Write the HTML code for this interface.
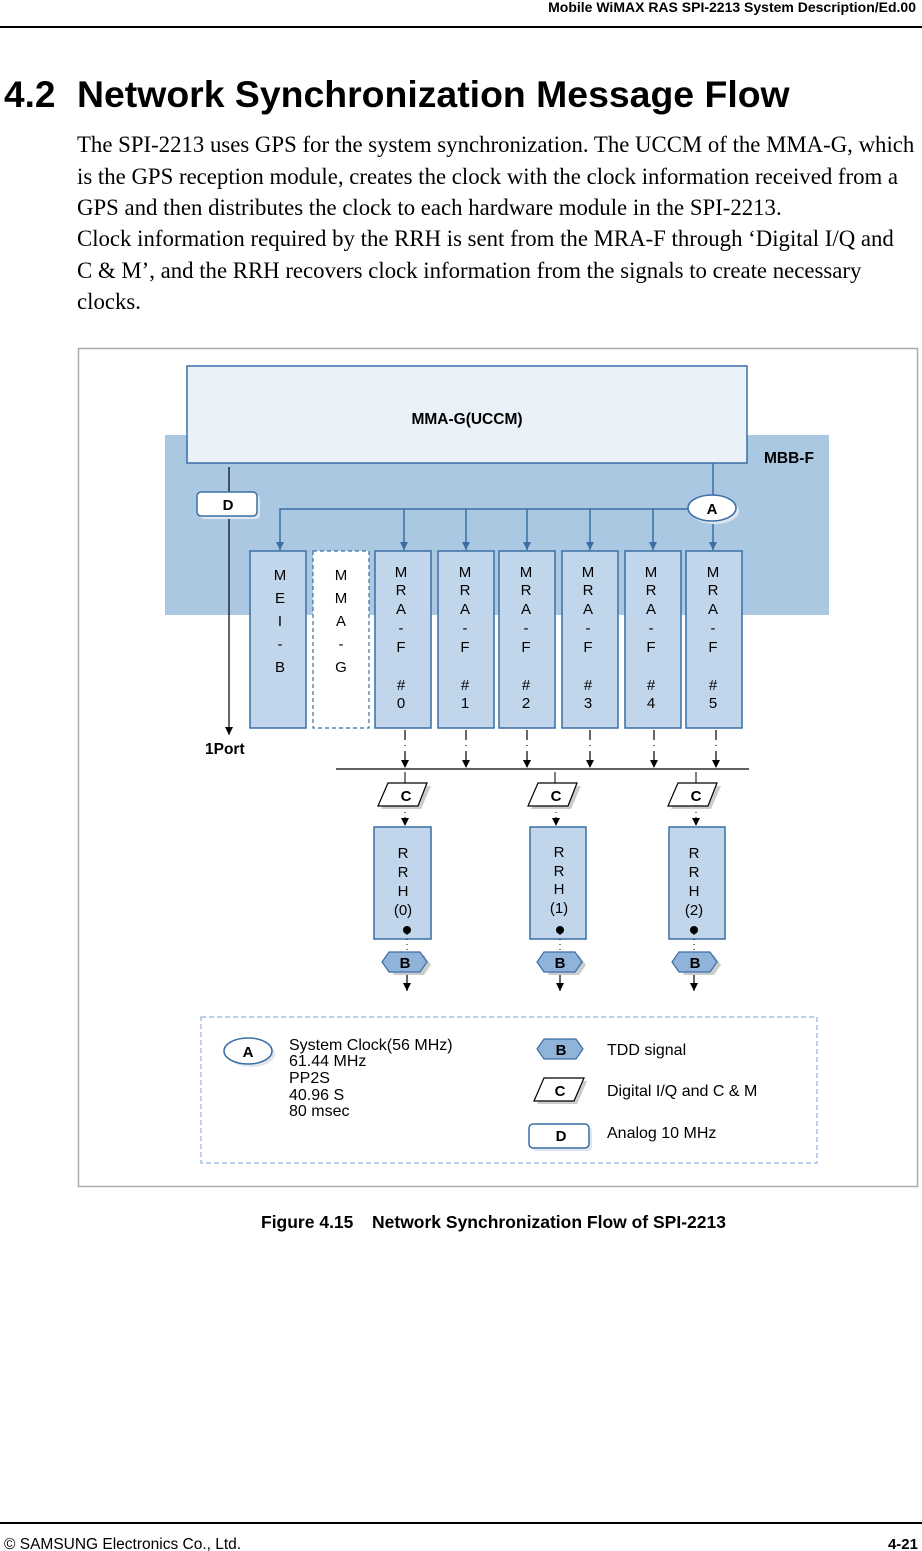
<!DOCTYPE html>
<html><head><meta charset="utf-8"><style>
body{margin:0;background:#fff;}
svg{display:block;font-family:"Liberation Sans",Arial,sans-serif;}
</style></head><body>
<svg width="922" height="1551" viewBox="0 0 922 1551" xmlns="http://www.w3.org/2000/svg">
<defs>
<marker id="ar" markerWidth="8" markerHeight="8" refX="8" refY="4" orient="auto" markerUnits="userSpaceOnUse"><path d="M0,0 L8,4 L0,8z" fill="#000"/></marker>
<marker id="ab" markerWidth="8" markerHeight="8" refX="8" refY="4" orient="auto" markerUnits="userSpaceOnUse"><path d="M0,0 L8,4 L0,8z" fill="#3a6ea5"/></marker>
<g id="m0"><text x="0" y="577">M</text><text x="0" y="595">R</text><text x="0" y="614">A</text><text x="0" y="633">-</text><text x="0" y="652">F</text><text x="0" y="690">#</text></g>
<g id="cc">
<polygon points="391,786 431,786 421,809 381,809" fill="#ccc"/>
<polygon points="388,783 427,783 418,806 378,806" fill="#fff" stroke="#000" stroke-width="1.2"/>
<text x="406" y="801" text-anchor="middle" font-size="15" font-weight="bold">C</text>
</g>
<g id="bb">
<polygon points="388,965 394,955 424,955 431,965 424,975 394,975" fill="#ccc"/>
<polygon points="382,962 389,952 420,952 427,962 420,972 389,972" fill="#8fb3d9" stroke="#3a6ea5" stroke-width="1.2"/>
<text x="405" y="968" text-anchor="middle" font-size="15" font-weight="bold">B</text>
</g>
</defs>
<text x="916" y="12" text-anchor="end" font-size="14" font-weight="bold">Mobile WiMAX RAS SPI-2213 System Description/Ed.00</text>
<line x1="0" y1="27" x2="922" y2="27" stroke="#000" stroke-width="2"/>
<text x="4" y="107" font-size="37" font-weight="bold">4.2</text>
<text x="77" y="107" font-size="37.4" font-weight="bold">Network Synchronization Message Flow</text>
<g font-family="Liberation Serif,serif" font-size="22.8">
<text x="77" y="152">The SPI-2213 uses GPS for the system synchronization. The UCCM of the MMA-G, which</text>
<text x="77" y="184">is the GPS reception module, creates the clock with the clock information received from a</text>
<text x="77" y="215">GPS and then distributes the clock to each hardware module in the SPI-2213.</text>
<text x="77" y="246">Clock information required by the RRH is sent from the MRA-F through ‘Digital I/Q and</text>
<text x="77" y="278">C &amp; M’, and the RRH recovers clock information from the signals to create necessary</text>
<text x="77" y="309">clocks.</text>
</g>
<rect x="78.5" y="348.5" width="839" height="838" fill="#fff" stroke="#aaa" stroke-width="1.5"/>
<rect x="165" y="435" width="664" height="180" fill="#abc8e3"/>
<rect x="187" y="366" width="560" height="97" fill="#eaf1f9" stroke="#3a6ea5" stroke-width="1.5"/>
<text x="467" y="424" text-anchor="middle" font-size="15.5" font-weight="bold">MMA-G(UCCM)</text>
<text x="764" y="463" font-size="15.5" font-weight="bold">MBB-F</text>
<line x1="229" y1="467" x2="229" y2="735" stroke="#000" stroke-width="1.2" marker-end="url(#ar)"/>
<rect x="200" y="495" width="60" height="24" rx="4" fill="#dfe6ee"/>
<rect x="197" y="492" width="60" height="24" rx="4" fill="#fff" stroke="#3a6ea5" stroke-width="1.5"/>
<text x="228" y="510" text-anchor="middle" font-size="15" font-weight="bold">D</text>
<text x="205" y="754" font-size="15.5" font-weight="bold">1Port</text>
<line x1="713" y1="463" x2="713" y2="550" stroke="#3a6ea5" stroke-width="1.5" marker-end="url(#ab)"/>
<polyline points="700,509 280,509 280,550" fill="none" stroke="#3a6ea5" stroke-width="1.5" marker-end="url(#ab)"/>
<g stroke="#3a6ea5" stroke-width="1.5" marker-end="url(#ab)">
<line x1="404" y1="509" x2="404" y2="550"/><line x1="466" y1="509" x2="466" y2="550"/>
<line x1="527" y1="509" x2="527" y2="550"/><line x1="590" y1="509" x2="590" y2="550"/>
<line x1="653" y1="509" x2="653" y2="550"/>
</g>
<ellipse cx="715" cy="511" rx="24" ry="13" fill="#dfe6ee"/>
<ellipse cx="712" cy="508" rx="24" ry="13" fill="#fff" stroke="#3a6ea5" stroke-width="1.5"/>
<text x="712" y="514" text-anchor="middle" font-size="15" font-weight="bold">A</text>
<g fill="#c2d6eb" stroke="#3a6ea5" stroke-width="1.5">
<rect x="250" y="551" width="56" height="177"/>
<rect x="375" y="551" width="56" height="177"/><rect x="438" y="551" width="56" height="177"/>
<rect x="499" y="551" width="56" height="177"/><rect x="562" y="551" width="56" height="177"/>
<rect x="625" y="551" width="56" height="177"/><rect x="686" y="551" width="56" height="177"/>
</g>
<rect x="313" y="551" width="56" height="177" fill="#fff" stroke="#3a6ea5" stroke-width="1.2" stroke-dasharray="4,3"/>
<g font-size="15" text-anchor="middle">
<text x="280" y="580">M</text><text x="280" y="603">E</text><text x="280" y="626">I</text><text x="280" y="649">-</text><text x="280" y="672">B</text>
<text x="341" y="580">M</text><text x="341" y="603">M</text><text x="341" y="626">A</text><text x="341" y="649">-</text><text x="341" y="672">G</text>
</g>
<g font-size="15" text-anchor="middle">
<use href="#m0" x="401"/><use href="#m0" x="465"/><use href="#m0" x="526"/><use href="#m0" x="588"/><use href="#m0" x="651"/><use href="#m0" x="713"/>
<text x="401" y="708">0</text><text x="465" y="708">1</text><text x="526" y="708">2</text><text x="588" y="708">3</text><text x="651" y="708">4</text><text x="713" y="708">5</text>
</g>
<g stroke="#000" stroke-width="1.2" stroke-dasharray="10,5,1,5" marker-end="url(#ar)">
<line x1="405" y1="730" x2="405" y2="768"/><line x1="466" y1="730" x2="466" y2="768"/>
<line x1="527" y1="730" x2="527" y2="768"/><line x1="590" y1="730" x2="590" y2="768"/>
<line x1="654" y1="730" x2="654" y2="768"/><line x1="716" y1="730" x2="716" y2="768"/>
</g>
<line x1="336" y1="769" x2="749" y2="769" stroke="#000" stroke-width="1.2"/>
<g stroke="#000" stroke-width="1">
<line x1="405" y1="772" x2="405" y2="783"/><line x1="555" y1="772" x2="555" y2="783"/><line x1="696" y1="772" x2="696" y2="783"/>
</g>
<g stroke="#000" stroke-width="1" stroke-dasharray="1,4" marker-end="url(#ar)">
<line x1="405" y1="807" x2="405" y2="826"/><line x1="556" y1="807" x2="556" y2="826"/><line x1="696" y1="807" x2="696" y2="826"/>
</g>
<use href="#cc"/><use href="#cc" x="150"/><use href="#cc" x="290"/>
<g fill="#c2d6eb" stroke="#3a6ea5" stroke-width="1.5">
<rect x="374" y="827" width="57" height="112"/><rect x="530" y="827" width="56" height="112"/><rect x="669" y="827" width="56" height="112"/>
</g>
<g font-size="15" text-anchor="middle">
<text x="403" y="858">R</text><text x="403" y="877">R</text><text x="403" y="896">H</text><text x="403" y="915">(0)</text>
<text x="559" y="857">R</text><text x="559" y="876">R</text><text x="559" y="894">H</text><text x="559" y="913">(1)</text>
<text x="694" y="858">R</text><text x="694" y="877">R</text><text x="694" y="896">H</text><text x="694" y="915">(2)</text>
</g>
<g fill="#000"><circle cx="407" cy="930" r="4"/><circle cx="560" cy="930" r="4"/><circle cx="694" cy="930" r="4"/></g>
<g stroke="#000" stroke-width="1" stroke-dasharray="1,4">
<line x1="407" y1="934" x2="407" y2="952"/><line x1="560" y1="934" x2="560" y2="952"/><line x1="694" y1="934" x2="694" y2="952"/>
</g>
<use href="#bb"/><use href="#bb" x="155"/><use href="#bb" x="290"/>
<g stroke="#000" stroke-width="1.2" marker-end="url(#ar)">
<line x1="407" y1="975" x2="407" y2="991"/><line x1="560" y1="975" x2="560" y2="991"/><line x1="694" y1="975" x2="694" y2="991"/>
</g>
<rect x="201" y="1017" width="616" height="146" fill="none" stroke="#8fb3d9" stroke-width="1.2" stroke-dasharray="5,3"/>
<ellipse cx="251" cy="1054" rx="24" ry="13" fill="#dfe6ee"/>
<ellipse cx="248" cy="1051" rx="24" ry="13" fill="#fff" stroke="#3a6ea5" stroke-width="1.5"/>
<text x="248" y="1057" text-anchor="middle" font-size="15" font-weight="bold">A</text>
<g font-size="16">
<text x="289" y="1050">System Clock(56 MHz)</text>
<text x="289" y="1066">61.44 MHz</text>
<text x="289" y="1083">PP2S</text>
<text x="289" y="1100">40.96 S</text>
<text x="289" y="1116">80 msec</text>
<text x="607" y="1055">TDD signal</text>
<text x="607" y="1096">Digital I/Q and C &amp; M</text>
<text x="607" y="1138">Analog 10 MHz</text>
</g>
<polygon points="537,1049 544,1039 576,1039 583,1049 576,1059 544,1059" fill="#8fb3d9" stroke="#3a6ea5" stroke-width="1.2"/>
<text x="561" y="1055" text-anchor="middle" font-size="15" font-weight="bold">B</text>
<polygon points="547,1081 587,1081 577,1104 537,1104" fill="#ccc"/>
<polygon points="544,1078 584,1078 574,1101 534,1101" fill="#fff" stroke="#000" stroke-width="1.2"/>
<text x="560" y="1096" text-anchor="middle" font-size="15" font-weight="bold">C</text>
<rect x="532" y="1127" width="60" height="24" rx="4" fill="#dfe6ee"/>
<rect x="529" y="1124" width="60" height="24" rx="4" fill="#fff" stroke="#3a6ea5" stroke-width="1.5"/>
<text x="561" y="1141" text-anchor="middle" font-size="15" font-weight="bold">D</text>
<text x="261" y="1228" font-size="17.5" font-weight="bold">Figure 4.15</text>
<text x="372" y="1228" font-size="17.5" font-weight="bold">Network Synchronization Flow of SPI-2213</text>
<line x1="0" y1="1523" x2="922" y2="1523" stroke="#000" stroke-width="2"/>
<text x="4" y="1549" font-size="15.5">© SAMSUNG Electronics Co., Ltd.</text>
<text x="918" y="1549" text-anchor="end" font-size="15" font-weight="bold">4-21</text>
</svg>
</body></html>
